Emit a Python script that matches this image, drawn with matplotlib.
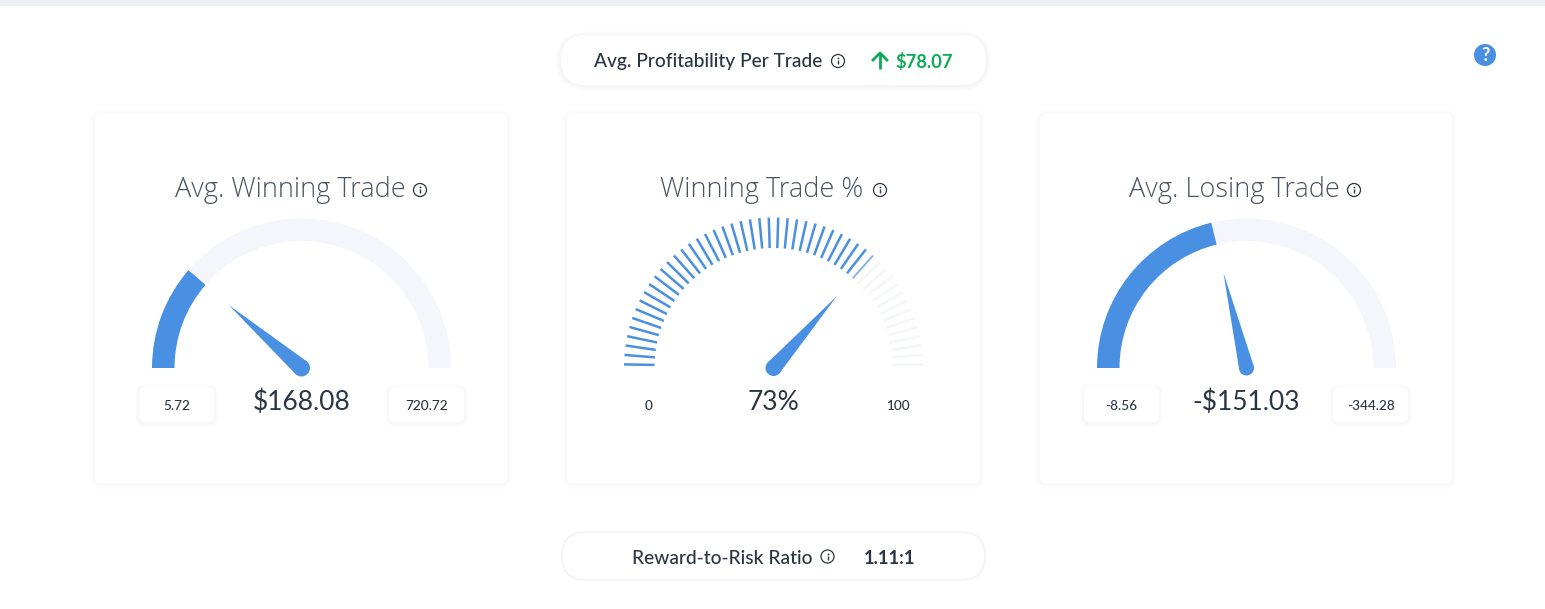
import numpy as np
import matplotlib as mpl
mpl.use("Agg")
import matplotlib.pyplot as plt
from matplotlib.patches import Circle, FancyBboxPatch, Polygon, Wedge

plt.rcParams["font.family"] = ["Lato", "DejaVu Sans"]

W, H = 1545, 609
INK = "#2b3543"
BLUE = "#4a90e2"
TRACK = "#f4f6fb"
GREEN = "#0fa958"

card_titles = ["Avg. Winning Trade", "Winning Trade %", "Avg. Losing Trade"]
card_values = ["$168.08", "73%", "-$151.03"]
min_labels = ["5.72", "0", "-8.56"]
max_labels = ["720.72", "100", "-344.28"]
gauge_vals = [168.08, 73, -151.03]
gauge_mins = [5.72, 0, -8.56]
gauge_maxs = [720.72, 100, -344.28]
profit_label = "Avg. Profitability Per Trade"
profit_value = "$78.07"
ratio_label = "Reward-to-Risk Ratio"
ratio_value = "1.11:1"
n_ticks = 50

fig = plt.figure(figsize=(W / 100, H / 100), dpi=100)
ax = fig.add_axes([0, 0, 1, 1])
ax.set_xlim(0, W)
ax.set_ylim(H, 0)
ax.axis("off")


def round_box(x0, y0, x1, y1, rad, fc="white", ec="none", lw=0, z=2):
    p = FancyBboxPatch((x0 + rad, y0 + rad), x1 - x0 - 2 * rad, y1 - y0 - 2 * rad,
                       boxstyle=f"round,pad={rad},rounding_size={rad}",
                       fc=fc, ec=ec, lw=lw, zorder=z)
    ax.add_patch(p)


def shadow_box(x0, y0, x1, y1, rad, spread=5, alpha=0.012, z=1):
    # soft drop shadow built from stacked translucent boxes
    for s in np.arange(spread, 0, -1.0):
        p = FancyBboxPatch((x0 + rad, y0 + rad + 1), x1 - x0 - 2 * rad, y1 - y0 - 2 * rad,
                           boxstyle=f"round,pad={rad + s},rounding_size={rad + s}",
                           fc="#39466b", ec="none", alpha=alpha, zorder=z)
        ax.add_patch(p)
    round_box(x0, y0, x1, y1, rad, z=z + 0.5)


def info_icon(x, y, r=6.5):
    ax.add_patch(Circle((x, y), r, fc="white", ec=INK, lw=0.9, zorder=5))
    ax.plot([x, x], [y - 1.0, y + 3.4], color=INK, lw=1.0, zorder=6, solid_capstyle="butt")
    ax.plot([x], [y - 3.0], "o", ms=1.3, color=INK, mew=0, zorder=6)


def angle_of(val, lo, hi):
    # 180 deg at the low end of the scale, 0 deg at the high end
    return 180 * (1 - (val - lo) / (hi - lo))


def needle(cx, cy, ang, hub=8.5, length=96):
    a = np.radians(ang)
    tip = np.array([cx + length * np.cos(a), cy - length * np.sin(a)])
    n = np.array([np.sin(a), np.cos(a)])
    ax.add_patch(Polygon([tip, (cx + hub * n[0], cy + hub * n[1]),
                          (cx - hub * n[0], cy - hub * n[1])],
                         closed=True, fc=BLUE, ec="none", zorder=4))
    ax.add_patch(Circle((cx, cy), hub, fc=BLUE, ec="none", zorder=4))


def arc_band(cx, cy, r_out, r_in, a0, a1, color):
    # y axis is flipped, so angles are mirrored for Wedge
    ax.add_patch(Wedge((cx, cy), r_out, 360 - a1, 360 - a0, width=r_out - r_in,
                       fc=color, ec="none", zorder=3))


def label(x, y, s, size, color=INK, weight="normal", family=None):
    ax.text(x, y, s, fontsize=size, color=color, ha="center", va="baseline",
            fontweight=weight, family=family, zorder=5)


# page strip along the top
ax.fill_between([0, W], 0, 6, color="#eeeff5", lw=0, zorder=1)

# cards
card_x = [(95, 507), (567, 980), (1040, 1452)]
centers = [301.5, 773.5, 1246.5]
for (x0, x1) in card_x:
    shadow_box(x0, 114, x1, 483, 5, spread=6, alpha=0.005)

# card titles sit left of their info icons
title_x = [290, 762, 1234.5]
icon_x = [420, 880, 1354]
for tx, ix, title in zip(title_x, icon_x, card_titles):
    label(tx, 197, title, 19.5, color="#4a5462", weight="light", family="Open Sans")
    info_icon(ix, 190)

# solid gauges left and right
for i in (0, 2):
    cx = centers[i]
    ang = angle_of(gauge_vals[i], gauge_mins[i], gauge_maxs[i])
    arc_band(cx, 368, 149.5, 127, 0, 180, TRACK)
    arc_band(cx, 368, 149.5, 127, ang, 180, BLUE)
    needle(cx, 368, ang, hub=8.5 if i == 0 else 7.5, length=96 if i == 0 else 98)
    # min / max chips
    bx = [(139, 214), (389, 464)] if i == 0 else [(1084, 1159), (1333, 1408)]
    for (b0, b1), lab in zip(bx, (min_labels[i], max_labels[i])):
        shadow_box(b0, 387, b1, 422, 6, spread=4, alpha=0.008, z=3)
        label((b0 + b1) / 2, 410, lab, 9.8, weight="medium")
    label(cx, 410, card_values[i], 19)

# tick gauge in the middle
cx = centers[1]
ang = angle_of(gauge_vals[1], gauge_mins[1], gauge_maxs[1])
step = 178 / (n_ticks - 1)
for k in range(n_ticks):
    a = 179 - k * step
    ca, sa = np.cos(np.radians(a)), np.sin(np.radians(a))
    # the tick under the fill boundary is only partly covered
    if a >= ang:
        c, lw = BLUE, 1.8
    elif a >= ang - step / 2:
        c, lw = "#7fb0ea", 1.3
    else:
        c, lw = TRACK, 1.8
    ax.plot([cx + 119 * ca, cx + 149.5 * ca], [367 - 119 * sa, 367 - 149.5 * sa],
            color=c, lw=lw, solid_capstyle="butt", zorder=3)
needle(cx, 368, ang, hub=8, length=96)
label(648.5, 410, min_labels[1], 9.8, weight="medium")
label(898.5, 410, max_labels[1], 9.8, weight="medium")
label(cx, 410, card_values[1], 19)

# top pill
shadow_box(561, 35, 986, 85, 25, spread=5, alpha=0.006)
label(708.5, 67.5, profit_label, 13.8, weight="medium")
info_icon(838, 61)
ax.plot([880, 880], [53.5, 68.5], color=GREEN, lw=2.0, solid_capstyle="butt", zorder=5)
ax.plot([873, 880, 887], [60, 53, 60], color=GREEN, lw=2.0, zorder=5)
label(924.5, 67.5, profit_value, 13.2, color=GREEN, weight="bold")

# bottom pill
round_box(562, 532, 985, 580, 24, fc="white", ec="#f2f3f9", lw=1.2)
label(722, 563.5, ratio_label, 13.8, weight="medium")
info_icon(827.5, 556.5)
label(890, 563.5, ratio_value, 13.2, weight="bold")

# help badge
ax.add_patch(Circle((1485, 55), 11, fc=BLUE, ec="none", zorder=5))
ax.text(1485, 61, "?", fontsize=13, color="white", ha="center", va="baseline",
        fontweight="bold", zorder=6)

fig.savefig("out.png", dpi=100, facecolor="white")
plt.close(fig)
